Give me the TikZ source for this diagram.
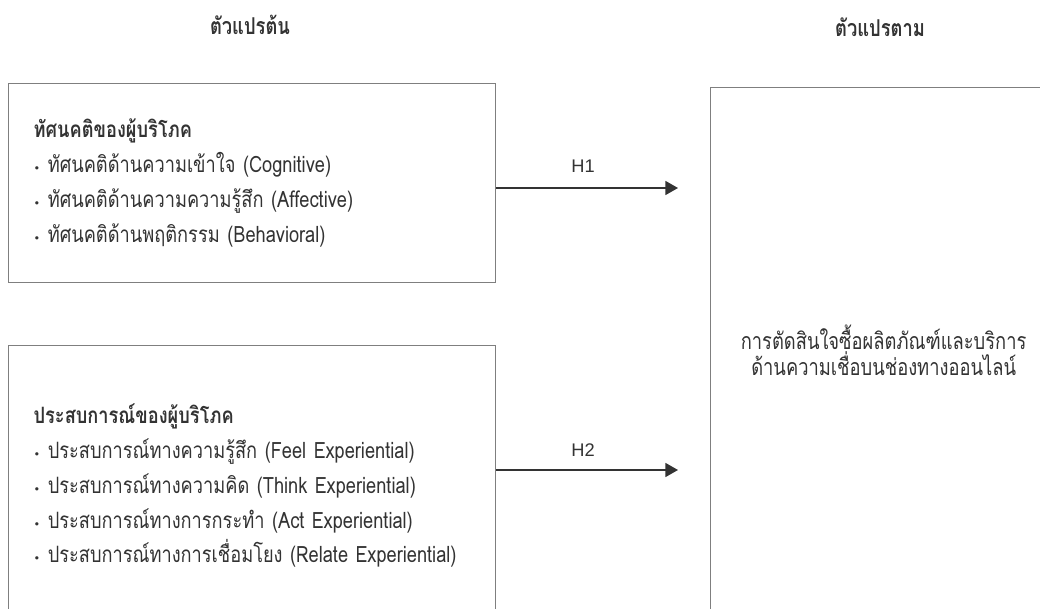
\documentclass[tikz,border=0pt]{standalone}
\usepackage{fontspec}
\setmainfont{Liberation Sans}
\newfontfamily\thaifont[Script=Thai,FakeStretch=0.79]{Loma}
\newfontfamily\thaibody[Script=Thai,FakeStretch=0.81]{Loma}
\newfontfamily\bulfont{DejaVu Sans}
\usetikzlibrary{arrows.meta}
\usetikzlibrary{positioning}

\definecolor{boxgray}{HTML}{7F7F7F}
\definecolor{txtgray}{HTML}{333333}
\newcommand{\bul}{{\bulfont\footnotesize •}\ }

\begin{document}
\begin{tikzpicture}[
  varbox/.style={draw=boxgray,line width=0.9pt,text=txtgray,align=left,anchor=north west,
    inner xsep=0.625cm,text width=10.925cm,minimum width=12.175cm,
    font=\thaibody\fontsize{16}{24.8}\selectfont},
  headtxt/.style={text=txtgray,font=\thaifont\bfseries\fontsize{16.5}{18}\selectfont},
  hyplabel/.style={text=txtgray,font=\fontsize{13}{15}\selectfont},
  hyparrow/.style={draw=txtgray,line width=1pt,-{Triangle[length=9pt,width=10pt]}}
]
\useasboundingbox (0,0) rectangle (26,15.2);
\clip (0,0) rectangle (26,15.2);

% column titles
\node[headtxt] (indep) at (6.25,14.575) {ตัวแปรต้น};
\node[headtxt] (dep) at (22.0,14.525) {ตัวแปรตาม};

% independent variables
\node[varbox,minimum height=4.975cm] (attitude) at (0.2,13.125)
  {{\bfseries ทัศนคติของผู้บริโภค}\\
   \bul ทัศนคติด้านความเข้าใจ (Cognitive)\\
   \bul ทัศนคติด้านความความรู้สึก (Affective)\\
   \bul ทัศนคติด้านพฤติกรรม (Behavioral)};
\node[varbox,minimum height=7cm] (experience) at (0.2,6.575)
  {{\bfseries ประสบการณ์ของผู้บริโภค}\\
   \bul ประสบการณ์ทางความรู้สึก (Feel Experiential)\\
   \bul ประสบการณ์ทางความคิด (Think Experiential)\\
   \bul ประสบการณ์ทางการกระทำ (Act Experiential)\\
   \mbox{\bul ประสบการณ์ทางการเชื่อมโยง (Relate Experiential)}};

% dependent variable
\node[draw=boxgray,line width=0.9pt,text=txtgray,anchor=north west,align=center,
  minimum width=8.65cm,minimum height=13.15cm,
  font=\thaifont\fontsize{16.5}{18.4}\selectfont] (decision) at (17.75,13.025)
  {การตัดสินใจซื้อผลิตภัณฑ์และบริการ\\ด้านความเชื่อบนช่องทางออนไลน์};

% hypotheses
\coordinate (h1end) at (16.95,10.5);
\coordinate (h2end) at (16.95,3.45);
\draw[hyparrow] (attitude.east |- h1end) -- (h1end);
\draw[hyparrow] (experience.east |- h2end) -- (h2end);
\node[hyplabel] (h1) at (14.575,11.05) {H1};
\node[hyplabel] (h2) at (14.575,3.95) {H2};

\end{tikzpicture}
\end{document}
